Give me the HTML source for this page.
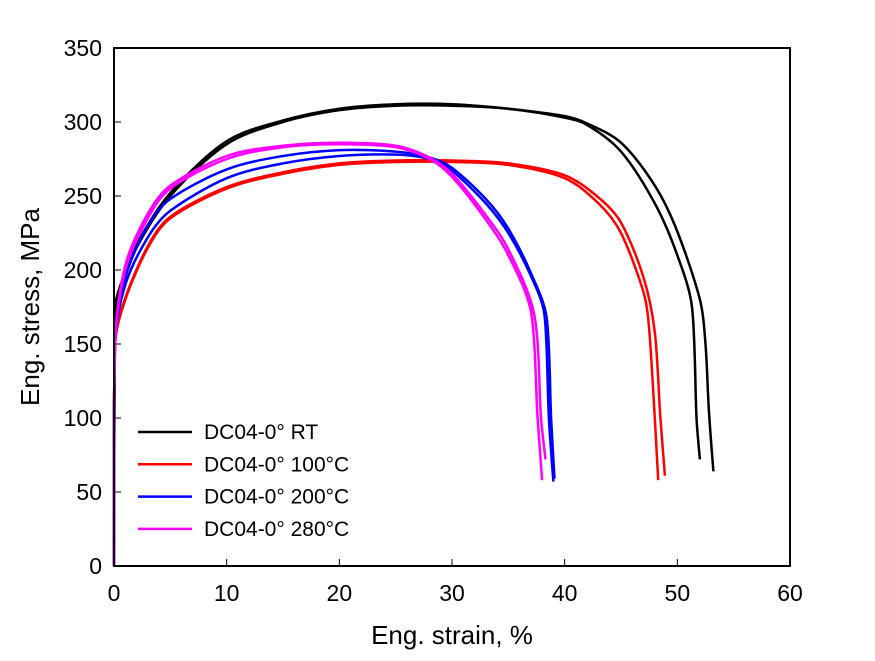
<!DOCTYPE html>
<html><head><meta charset="utf-8"><style>
body{margin:0;background:#fff}
svg text{font-family:"Liberation Sans",sans-serif;fill:#000}
</style></head><body>
<svg width="875" height="656" viewBox="0 0 875 656">
<rect width="875" height="656" fill="#fff"/>
<g id="ticks"></g>
<g id="curves" fill="none" stroke-width="2.5" stroke-linejoin="round"></g>
<rect x="114" y="48" width="676" height="518" fill="none" stroke="#000" stroke-width="2"/>
<text x="452" y="644" font-size="26" text-anchor="middle">Eng. strain, %</text>
<text transform="translate(39,307) rotate(-90)" font-size="26" text-anchor="middle">Eng. stress, MPa</text>
<g id="legend"></g>
</svg>
<script>
const xTicks=[0,10,20,30,40,50,60];
const yTicks=[0,50,100,150,200,250,300,350];
const seriesNames=["DC04-0° RT","DC04-0° 100°C","DC04-0° 200°C","DC04-0° 280°C"];
const seriesColors=["#000000","#ff0000","#0000ff","#ff00ff"];
const rtA=[[0,0],[0.1,170],[0.5,185],[2,215],[5,250],[10,285],[15,300],[20,308],[25,311],[30,311],[35,309],[40,303],[42,298],[45,280],[48,245],[50,210],[51.3,175],[51.7,100],[52,72]];
const rtB=[[0,0],[0.1,175],[0.5,188],[2,217],[5,252],[10,287],[15,301],[20,309],[25,312],[30,312],[35,309],[40,304],[42,299],[45,286],[48,257],[50,226],[52,180],[52.5,150],[52.8,105],[53.2,64]];
const c100A=[[0,0],[0.1,150],[1,180],[3,215],[5,235],[10,255],[15,265],[20,271],[25,273],[30,273],[35,271],[40,262],[43,245],[45,225],[47,185],[47.5,160],[48,100],[48.3,58]];
const c100B=[[0,0],[0.1,152],[1,181],[3,216],[5,236],[10,256],[15,266],[20,272],[25,274],[30,274],[35,272],[40,264],[43,249],[45,232],[47,195],[48,158],[48.5,100],[48.9,61]];
const c200A=[[0,0],[0.1,150],[1,190],[3,222],[5,240],[10,262],[15,272],[20,277],[25,278],[28,275],[30,267],[33,245],[35,225],[37,196],[38.2,170],[38.6,100],[39,57]];
const c200B=[[0,0],[0.1,152],[1,195],[3,230],[5,248],[10,268],[15,277],[20,281],[25,280],[28,276],[30,269],[33,248],[35,228],[37,198],[38.4,168],[38.8,100],[39.1,59]];
const c280A=[[0,0],[0.1,150],[1,200],[3,235],[5,255],[10,275],[15,283],[20,285],[25,283],[28,275],[30,263],[33,234],[35,210],[37,172],[37.6,100],[38,58]];
const c280B=[[0,0],[0.1,152],[1,203],[3,238],[5,257],[10,277],[15,284],[20,286],[25,284],[28,276],[30,265],[33,237],[35,214],[37.3,170],[37.9,100],[38.3,72]];
const curveData=[[rtA,0],[rtB,0],[c100A,1],[c100B,1],[c200A,2],[c200B,2],[c280A,3],[c280B,3]];
const X=v=>114+v*(676/60), Y=v=>566-v*(518/350);
const NS="http://www.w3.org/2000/svg";
function smoothPath(pts){
 const P=pts.map(q=>[X(q[0]),Y(q[1])]);
 let d='M'+P[0][0].toFixed(1)+','+P[0][1].toFixed(1);
 for(let i=0;i<P.length-1;i++){
  const p0=P[Math.max(0,i-1)],p1=P[i],p2=P[i+1],p3=P[Math.min(P.length-1,i+2)];
  let c1=[p1[0]+(p2[0]-p0[0])/6,p1[1]+(p2[1]-p0[1])/6];
  let c2=[p2[0]-(p3[0]-p1[0])/6,p2[1]-(p3[1]-p1[1])/6];
  const seg=Math.hypot(p2[0]-p1[0],p2[1]-p1[1]);
  const lim=(c,p)=>{const dd=Math.hypot(c[0]-p[0],c[1]-p[1]);if(dd>seg/3){const k=seg/3/dd;return [p[0]+(c[0]-p[0])*k,p[1]+(c[1]-p[1])*k];}return c;};
  c1=lim(c1,p1);c2=lim(c2,p2);
  d+='C'+c1.map(v=>v.toFixed(1)).join(',')+' '+c2.map(v=>v.toFixed(1)).join(',')+' '+p2[0].toFixed(1)+','+p2[1].toFixed(1);
 }
 return d;
}
const tg=document.getElementById('ticks');
xTicks.forEach(t=>{
 const l=document.createElementNS(NS,'line');
 
 
 l.setAttribute('x1',X(t));l.setAttribute('x2',X(t));l.setAttribute('y1',566);l.setAttribute('y2',559);l.setAttribute('stroke','#000');tg.appendChild(l);
 const tx=document.createElementNS(NS,'text');
 
 
 tx.setAttribute('x',X(t));tx.setAttribute('y',601);tx.setAttribute('font-size','23');tx.setAttribute('text-anchor','middle');tx.textContent=t;tg.appendChild(tx);
});
yTicks.forEach(t=>{
 const l=document.createElementNS(NS,'line');
 
 
 l.setAttribute('x1',114);l.setAttribute('x2',121);l.setAttribute('y1',Y(t));l.setAttribute('y2',Y(t));l.setAttribute('stroke','#000');tg.appendChild(l);
 const tx=document.createElementNS(NS,'text');
 
 
 tx.setAttribute('x',102);tx.setAttribute('y',Y(t)+8);tx.setAttribute('font-size','23');tx.setAttribute('text-anchor','end');tx.textContent=t;tg.appendChild(tx);
});
const cg=document.getElementById('curves');
curveData.forEach(([d,s])=>{
 const p=document.createElementNS(NS,'path');
 
 
 p.setAttribute('d',smoothPath(d));
 p.setAttribute('stroke',seriesColors[s]);cg.appendChild(p);
});
const lg=document.getElementById('legend');
seriesNames.forEach((n,i)=>{
 const y=432+i*32.3;
 const l=document.createElementNS(NS,'line');
 
 
 l.setAttribute('x1',138);l.setAttribute('x2',192);l.setAttribute('y1',y);l.setAttribute('y2',y);l.setAttribute('stroke',seriesColors[i]);l.setAttribute('stroke-width','2.5');lg.appendChild(l);
 const t=document.createElementNS(NS,'text');
 
 
 t.setAttribute('x',204);t.setAttribute('y',y+7);t.setAttribute('font-size','21');t.textContent=n;lg.appendChild(t);
});
</script>
</body></html>
